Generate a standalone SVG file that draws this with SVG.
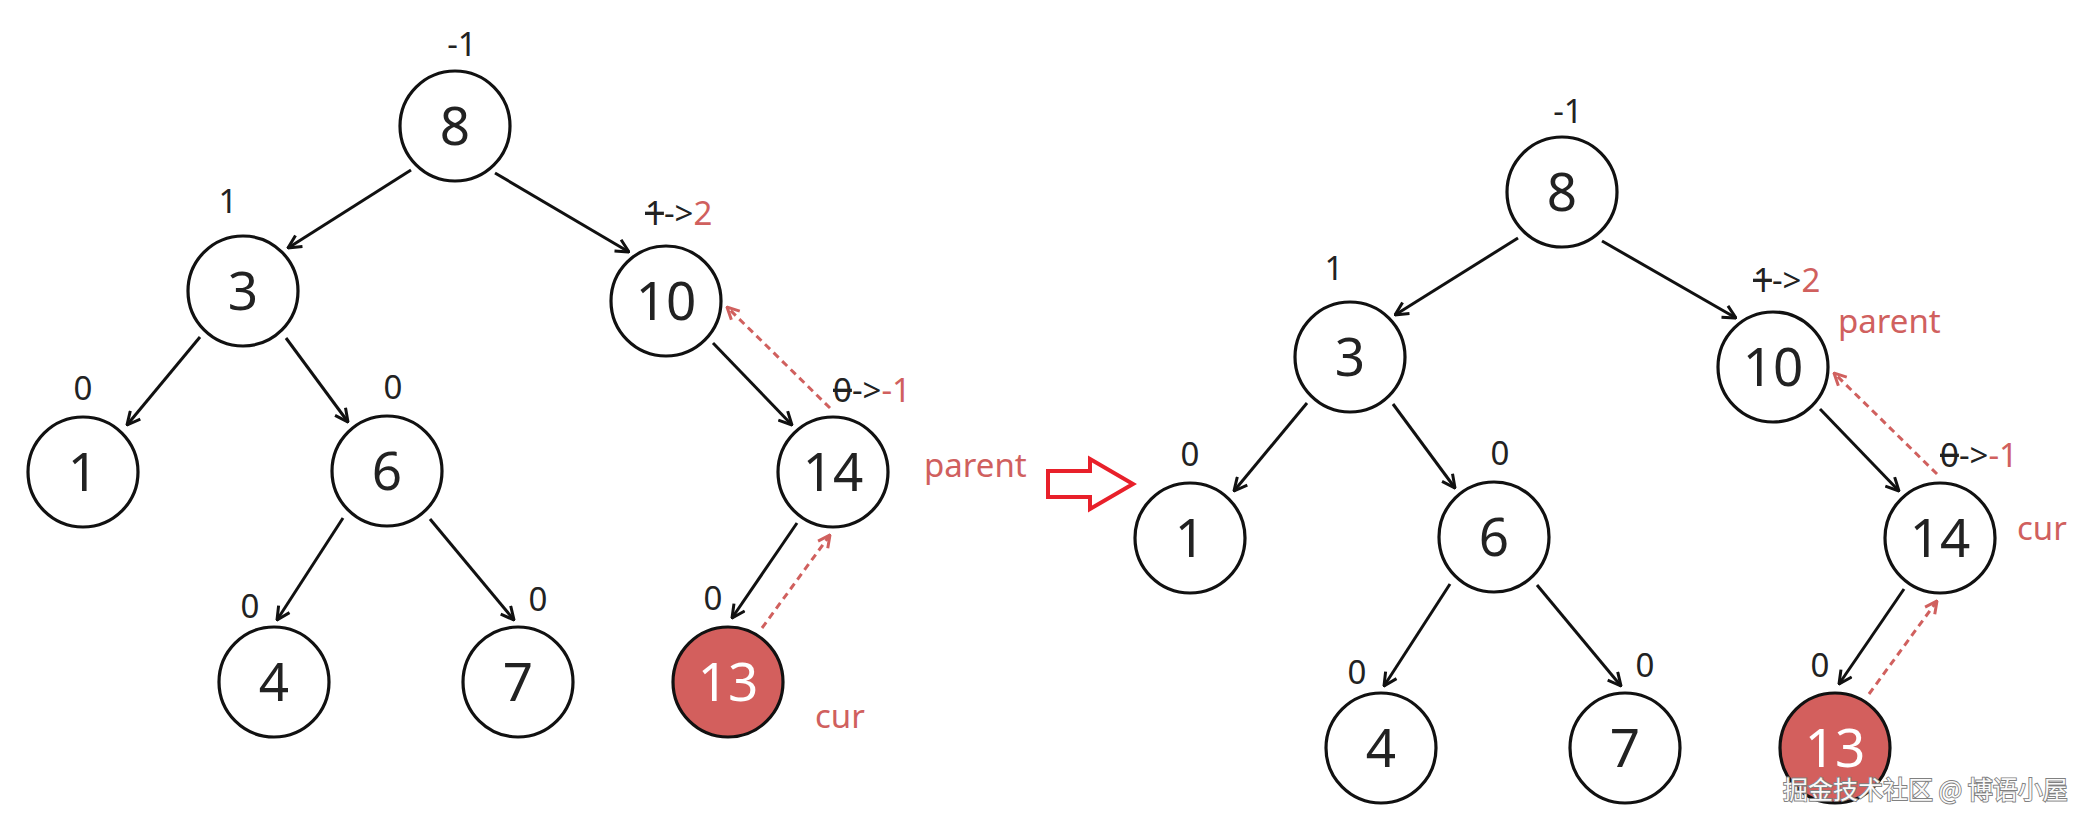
<svg xmlns="http://www.w3.org/2000/svg" width="2092" height="830" viewBox="0 0 2092 830">
<defs>
<style>
.node{fill:#fff;stroke:#111;stroke-width:3.2}
.hot{fill:#d35f5d;stroke:#111;stroke-width:3.2}
.num{font-family:"Noto Sans","DejaVu Sans",sans-serif;font-size:53px;fill:#222;text-anchor:middle}
.numw{font-family:"Noto Sans","DejaVu Sans",sans-serif;font-size:53px;fill:#fff;text-anchor:middle}
.bal{font-family:"Noto Sans","DejaVu Sans",sans-serif;font-size:33px;fill:#222}
.red{fill:#d0605e}
.lbl{font-family:"Noto Sans","DejaVu Sans",sans-serif;font-size:33px;fill:#d0605e}
.edge{stroke:#111;stroke-width:3;fill:none;marker-end:url(#ah)}
.back{stroke:#d0605e;stroke-width:3;fill:none;stroke-dasharray:7 5;marker-end:url(#ahr)}
.wm{font-family:"Noto Sans CJK SC","Noto Sans",sans-serif;font-size:25px;fill:#fafafa;stroke:#808080;stroke-width:1.8;paint-order:stroke}
</style>
<marker id="ah" viewBox="0 0 16 16" refX="15" refY="8" markerWidth="16" markerHeight="16" markerUnits="userSpaceOnUse" orient="auto">
<path d="M2,1.5 L15,8 L2,14.5" fill="none" stroke="#111" stroke-width="3"/>
</marker>
<marker id="ahr" viewBox="0 0 16 16" refX="15" refY="8" markerWidth="16" markerHeight="16" markerUnits="userSpaceOnUse" orient="auto">
<path d="M3,2 L15,8 L3,14" fill="none" stroke="#d0605e" stroke-width="3"/>
</marker>
</defs>
<rect width="2092" height="830" fill="#fff"/>

<!-- Left tree -->
<g id="left-tree">
<g id="left-connectors">
<line class="edge" x1="411" y1="170" x2="288" y2="248"/>
<line class="edge" x1="495" y1="173" x2="629" y2="252"/>
<line class="edge" x1="200" y1="337" x2="127" y2="425"/>
<line class="edge" x1="286" y1="338" x2="348" y2="422"/>
<line class="edge" x1="343" y1="518" x2="277" y2="620"/>
<line class="edge" x1="430" y1="519" x2="514" y2="620"/>
<line class="edge" x1="713" y1="343" x2="792" y2="425"/>
<line class="edge" x1="797" y1="523" x2="732" y2="618"/>
<line class="back" x1="830" y1="408" x2="727" y2="307"/>
<line class="back" x1="762" y1="628" x2="830" y2="535"/>
</g>
<g id="L8"><circle class="node" cx="455" cy="126" r="55"/><text class="num" x="455" y="145">8</text><text class="bal" x="462" y="56" text-anchor="middle">-1</text></g>
<g id="L3"><circle class="node" cx="243" cy="291" r="55"/><text class="num" x="243" y="310">3</text><text class="bal" x="228" y="213" text-anchor="middle">1</text></g>
<g id="L10"><circle class="node" cx="666" cy="301" r="55"/><text class="num" x="666" y="320">10</text><text class="bal" x="645" y="225"><tspan text-decoration="line-through">1</tspan>-&gt;<tspan class="red">2</tspan></text></g>
<g id="L1"><circle class="node" cx="83" cy="472" r="55"/><text class="num" x="83" y="491">1</text><text class="bal" x="83" y="400" text-anchor="middle">0</text></g>
<g id="L6"><circle class="node" cx="387" cy="471" r="55"/><text class="num" x="387" y="490">6</text><text class="bal" x="393" y="399" text-anchor="middle">0</text></g>
<g id="L14"><circle class="node" cx="833" cy="472" r="55"/><text class="num" x="833" y="491">14</text><text class="bal" x="833" y="402"><tspan text-decoration="line-through">0</tspan>-&gt;<tspan class="red">-1</tspan></text><text class="lbl" x="924" y="477">parent</text></g>
<g id="L4"><circle class="node" cx="274" cy="682" r="55"/><text class="num" x="274" y="701">4</text><text class="bal" x="250" y="618" text-anchor="middle">0</text></g>
<g id="L7"><circle class="node" cx="518" cy="682" r="55"/><text class="num" x="518" y="701">7</text><text class="bal" x="538" y="611" text-anchor="middle">0</text></g>
<g id="L13"><circle class="hot" cx="728" cy="682" r="55"/><text class="numw" x="728" y="701">13</text><text class="bal" x="713" y="610" text-anchor="middle">0</text><text class="lbl" x="815" y="728">cur</text></g>
</g>

<!-- transition arrow -->
<g id="transition">
<polygon points="1048,471 1090,471 1090,459 1133,484 1090,509 1090,497 1048,497" fill="#fff" stroke="#e8202a" stroke-width="4" stroke-linejoin="miter"/>
</g>

<!-- Right tree -->
<g id="right-tree" transform="translate(1107,66)">
<g id="right-connectors">
<line class="edge" x1="411" y1="172" x2="288" y2="249"/>
<line class="edge" x1="495" y1="175" x2="629" y2="252"/>
<line class="edge" x1="200" y1="337" x2="127" y2="425"/>
<line class="edge" x1="286" y1="338" x2="348" y2="422"/>
<line class="edge" x1="343" y1="518" x2="277" y2="620"/>
<line class="edge" x1="430" y1="519" x2="514" y2="620"/>
<line class="edge" x1="713" y1="343" x2="792" y2="425"/>
<line class="edge" x1="797" y1="523" x2="732" y2="618"/>
<line class="back" x1="830" y1="408" x2="727" y2="307"/>
<line class="back" x1="762" y1="628" x2="830" y2="535"/>
</g>
<g id="R8"><circle class="node" cx="455" cy="126" r="55"/><text class="num" x="455" y="145">8</text><text class="bal" x="461" y="57" text-anchor="middle">-1</text></g>
<g id="R3"><circle class="node" cx="243" cy="291" r="55"/><text class="num" x="243" y="310">3</text><text class="bal" x="227" y="214" text-anchor="middle">1</text></g>
<g id="R10"><circle class="node" cx="666" cy="301" r="55"/><text class="num" x="666" y="320">10</text><text class="bal" x="646" y="226"><tspan text-decoration="line-through">1</tspan>-&gt;<tspan class="red">2</tspan></text><text class="lbl" x="731" y="267">parent</text></g>
<g id="R1"><circle class="node" cx="83" cy="472" r="55"/><text class="num" x="83" y="491">1</text><text class="bal" x="83" y="400" text-anchor="middle">0</text></g>
<g id="R6"><circle class="node" cx="387" cy="471" r="55"/><text class="num" x="387" y="490">6</text><text class="bal" x="393" y="399" text-anchor="middle">0</text></g>
<g id="R14"><circle class="node" cx="833" cy="472" r="55"/><text class="num" x="833" y="491">14</text><text class="bal" x="833" y="401"><tspan text-decoration="line-through">0</tspan>-&gt;<tspan class="red">-1</tspan></text><text class="lbl" x="910" y="474">cur</text></g>
<g id="R4"><circle class="node" cx="274" cy="682" r="55"/><text class="num" x="274" y="701">4</text><text class="bal" x="250" y="618" text-anchor="middle">0</text></g>
<g id="R7"><circle class="node" cx="518" cy="682" r="55"/><text class="num" x="518" y="701">7</text><text class="bal" x="538" y="611" text-anchor="middle">0</text></g>
<g id="R13"><circle class="hot" cx="728" cy="682" r="55"/><text class="numw" x="728" y="701">13</text><text class="bal" x="713" y="611" text-anchor="middle">0</text></g>
</g>

<text class="wm" x="1783" y="799">掘金技术社区 @ 博语小屋</text>
</svg>
